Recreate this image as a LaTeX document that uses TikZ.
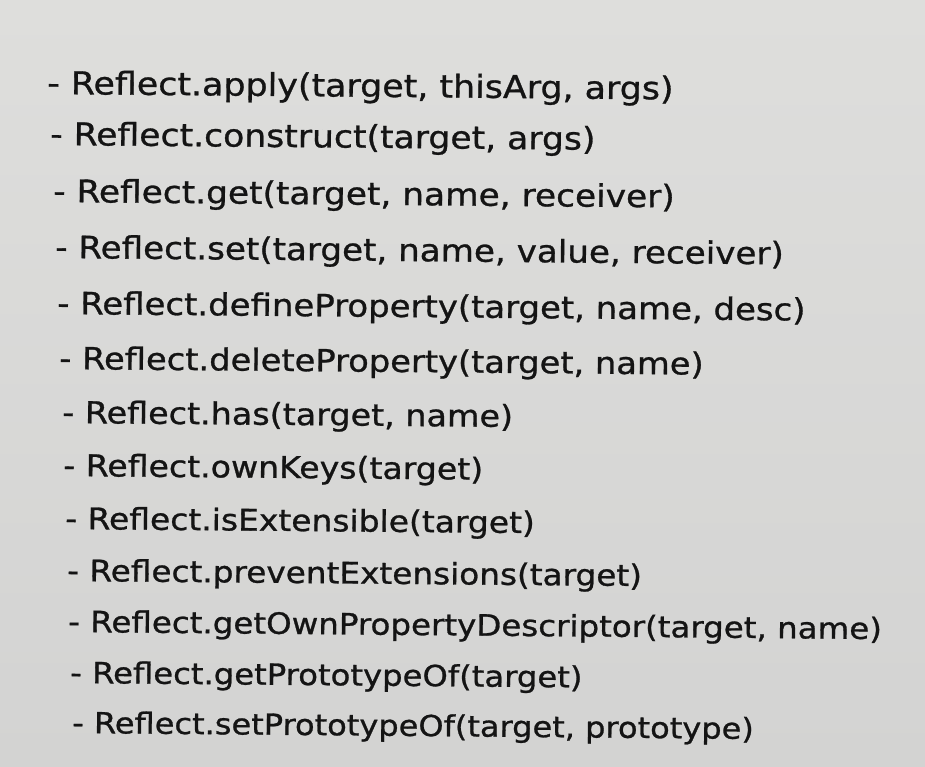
\documentclass[tikz,border=0pt]{standalone}
\usepackage{fontspec}
\setmainfont{DejaVu Sans}
\newfontfamily\vf{DejaVu Sans}[FakeStretch=1.105,FakeBold=0.9]
\definecolor{bgtop}{HTML}{DEDEDC}
\definecolor{bgbot}{HTML}{D3D3D2}
\definecolor{ink}{HTML}{141414}
\begin{document}
\begin{tikzpicture}[x=1pt,y=-1pt,
  ln/.style={anchor=base west,inner sep=0pt,text=ink,rotate=-0.5,
    font=\vf\fontsize{#1}{#1}\selectfont}]
\shade[top color=bgtop,bottom color=bgbot] (0,0) rectangle (925,767);
\useasboundingbox (0,0) rectangle (925,767);
\node[ln=31.5] (l1) at (47,94) {- Reflect.apply(target, thisArg, args)};
\node[ln=31.3] (l2) at (50,145) {- Reflect.construct(target, args)};
\node[ln=31.1] (l3) at (53,202) {- Reflect.get(target, name, receiver)};
\node[ln=30.9] (l4) at (55,258) {- Reflect.set(target, name, value, receiver)};
\node[ln=30.7] (l5) at (57,314) {- Reflect.defineProperty(target, name, desc)};
\node[ln=30.5] (l6) at (59,369) {- Reflect.deleteProperty(target, name)};
\node[ln=30.2] (l7) at (62,423) {- Reflect.has(target, name)};
\node[ln=30.0] (l8) at (63,476) {- Reflect.ownKeys(target)};
\node[ln=29.8] (l9) at (65,529) {- Reflect.isExtensible(target)};
\node[ln=29.6] (l10) at (67,581) {- Reflect.preventExtensions(target)};
\node[ln=29.4] (l11) at (68,632) {- Reflect.getOwnPropertyDescriptor(target, name)};
\node[ln=29.2] (l12) at (70,683) {- Reflect.getPrototypeOf(target)};
\node[ln=29.0] (l13) at (72,733) {- Reflect.setPrototypeOf(target, prototype)};
\end{tikzpicture}
\end{document}
